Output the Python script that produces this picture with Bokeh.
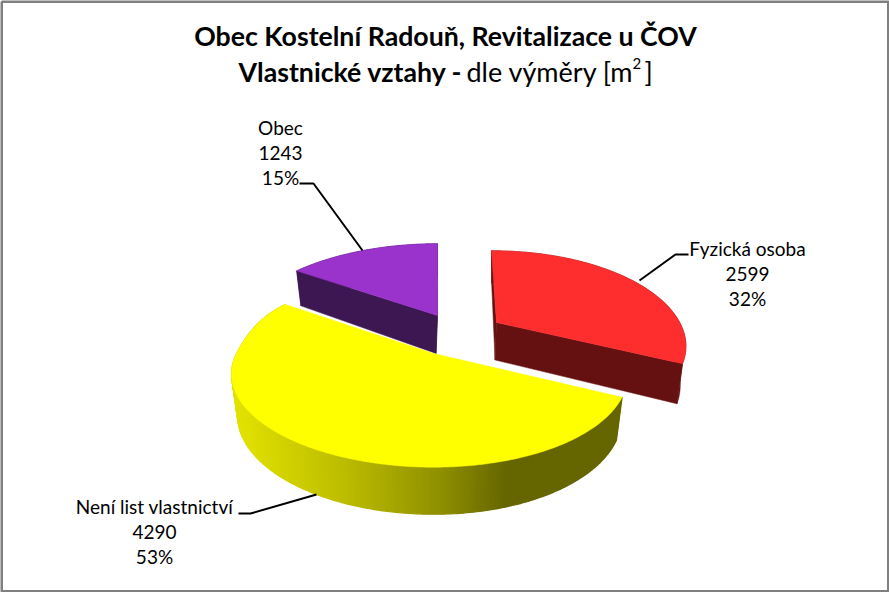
import math
from bokeh.plotting import figure
from bokeh.models import Range1d
from bokeh.embed import file_html
from bokeh.resources import INLINE
from bokeh.core.properties import value

categories = ["Fyzická osoba", "Není list vlastnictví", "Obec"]
amounts = [2599, 4290, 1243]
percents = ["32%", "53%", "15%"]
top_colors = ["#FF2E2E", "#FFFF00", "#9933CC"]
side_colors = ["#661111", "#DDDD00", "#3D1751"]

W, H = 889, 592
p = figure(width=W, height=H, output_backend="svg", toolbar_location=None,
           x_range=Range1d(0, W), y_range=Range1d(H, 0), min_border=0,
           outline_line_color=None,
           background_fill_color="white", border_fill_color="white")
p.axis.visible = False
p.grid.visible = False

# Perspective pie model (layout of each slice)
TILT, PERSP = 88.0, 0.226
SKEW = 0.02
apexes = [(496, 322), (433, 353), (437, 315)]
radii = [187.0, 193.0, 191.0]
leans = [5.0, 0.0, 0.0]
flare = [0.0, 0.3, 0.0]
start_turns = [0.0, math.radians(1.5), 0.0]
end_turns = [0.0, math.radians(4.6), 0.0]
depths = [37.5, 40.0, 38.0]
FONT = "Lato"


def project(i, theta):
    cx, cy = apexes[i]
    u, v = math.sin(theta), math.cos(theta)
    s = 1 / (1 + PERSP * v)
    f = 1 + flare[i] * max(v, 0) ** 2
    return cx + radii[i] * u * f * (1 - SKEW * u) * s - leans[i] * v, cy - TILT * v * s, v


def lower(i, x, y, v):
    cx = apexes[i][0]
    return cx + 0.97 * (x - cx), y + depths[i] / (1 + 0.15 * v)


def shade(x):
    stops = [(235, 226), (345, 187), (440, 143), (505, 102)]
    if x <= stops[0][0]:
        g = stops[0][1]
    elif x >= stops[-1][0]:
        g = stops[-1][1]
    else:
        for (x0, g0), (x1, g1) in zip(stops, stops[1:]):
            if x0 <= x <= x1:
                g = g0 + (g1 - g0) * (x - x0) / (x1 - x0)
                break
    g = round(g)
    return "#%02X%02X00" % (g, g)


total = sum(amounts)
starts, acc = [], 0
for a in amounts:
    starts.append(acc / total * 2 * math.pi)
    acc += a
ends = starts[1:] + [2 * math.pi]

for i in [2, 0, 1]:
    cx, cy = apexes[i]
    n = 240 if i == 1 else 80
    a0, a1 = starts[i] + start_turns[i], ends[i] + end_turns[i]
    th = [a0 + (a1 - a0) * k / n for k in range(n + 1)]
    upper = [project(i, t) for t in th]
    base = [lower(i, *q) for q in upper]
    ax, ay = cx, cy
    bx, by = lower(i, ax - 1.5, ay, 0)
    if i != 1:
        for j in (0, n):
            p.patch([ax, upper[j][0], base[j][0], bx], [ay, upper[j][1], base[j][1], by],
                    fill_color=side_colors[i], line_color=side_colors[i], line_width=0.5)
        p.patch([q[0] for q in upper] + [q[0] for q in base[::-1]],
                [q[1] for q in upper] + [q[1] for q in base[::-1]],
                fill_color=side_colors[i], line_color=side_colors[i], line_width=0.5)
    else:
        for j in range(n):
            xm = (upper[j][0] + upper[j + 1][0]) / 2
            c = shade(xm)
            p.patch([upper[j][0], upper[j + 1][0], base[j + 1][0], base[j][0]],
                    [upper[j][1], upper[j + 1][1], base[j + 1][1], base[j][1]],
                    fill_color=c, line_color=c, line_width=1.2)
    p.patch([ax] + [q[0] for q in upper], [ay] + [q[1] for q in upper],
            fill_color=top_colors[i], line_color=top_colors[i], line_width=0.5)

# Leader lines
p.line([299, 313, 362], [183, 183, 250], line_color="black", line_width=2)
p.line([688, 675, 639], [254, 254, 280], line_color="black", line_width=2)
p.line([238, 250, 316], [513, 513, 494], line_color="black", line_width=2)

# Labels
LABEL_PX = "19px"
anchors = [(747, 248), (154, 506), (280, 127)]
for i, (lx, ly) in enumerate(anchors):
    lines = [categories[i], str(amounts[i]), percents[i]]
    for k, s in enumerate(lines):
        p.text([lx], [ly + 25 * k], text=[s], text_align="center", text_baseline="middle",
               text_font=value(FONT), text_font_size=LABEL_PX, text_color="black")

# Title
def t(x, y, s, size="26.7px", style="normal", align="left"):
    p.text([x], [y], text=[s], text_align=align, text_baseline="alphabetic",
           text_font=value(FONT), text_font_size=size, text_font_style=style, text_color="black")

t(445, 35, "Obec Kostelní Radouň, Revitalizace u ČOV", style="bold", align="center")
t(238, 71, "Vlastnické vztahy -", style="bold")
t(466, 71, "dle výměry  [m", size="27px")
t(632, 63, "2", size="15px")
t(644, 71, "]", size="27px")

# Frame
p.line([1, W - 1, W - 1, 1, 1], [1, 1, H - 1, H - 1, 1], line_color="#808080", line_width=3)

open("out.html", "w").write(file_html(p, INLINE))
